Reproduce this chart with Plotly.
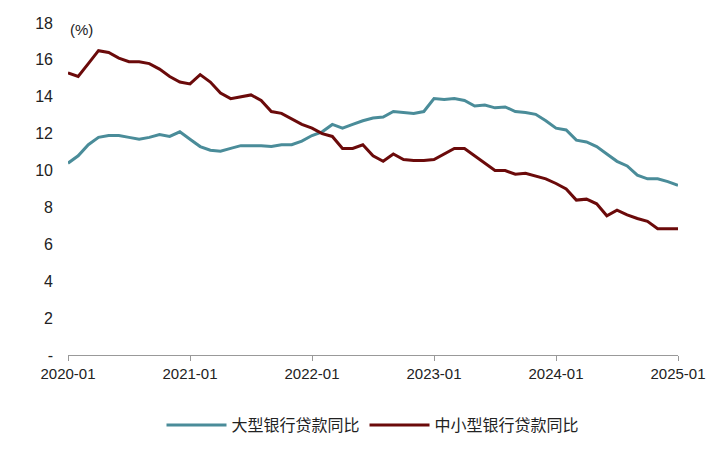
import plotly.graph_objects as go

large = [10.4, 10.8, 11.4, 11.8, 11.9, 11.9, 11.8, 11.7, 11.8, 11.95, 11.85, 12.1,
         11.7, 11.3, 11.1, 11.05, 11.2, 11.35, 11.35, 11.35, 11.3, 11.4, 11.4, 11.6,
         11.9, 12.1, 12.5, 12.3, 12.5, 12.7, 12.85, 12.9, 13.2, 13.15, 13.1, 13.2,
         13.9, 13.85, 13.9, 13.8, 13.5, 13.55, 13.4, 13.45, 13.2, 13.15, 13.05, 12.7,
         12.3, 12.2, 11.65, 11.55, 11.3, 10.9, 10.5, 10.25, 9.75, 9.55, 9.55, 9.4,
         9.2]
small = [15.3, 15.1, 15.8, 16.5, 16.4, 16.1, 15.9, 15.9, 15.8, 15.5, 15.1, 14.8,
         14.7, 15.2, 14.8, 14.2, 13.9, 14.0, 14.1, 13.8, 13.2, 13.1, 12.8, 12.5,
         12.3, 12.0, 11.85, 11.2, 11.2, 11.4, 10.8, 10.5, 10.9, 10.6, 10.55, 10.55,
         10.6, 10.9, 11.2, 11.2, 10.8, 10.4, 10.0, 10.0, 9.8, 9.85, 9.7, 9.55,
         9.3, 9.0, 8.4, 8.45, 8.2, 7.55, 7.85, 7.6, 7.4, 7.25, 6.85, 6.85,
         6.85]
x_labels = ["2020-01", "2021-01", "2022-01", "2023-01", "2024-01", "2025-01"]
y_ticks = [0, 2, 4, 6, 8, 10, 12, 14, 16, 18]
y_labels = ["-"] + [str(v) for v in y_ticks[1:]]

x = list(range(len(large)))
fig = go.Figure()
fig.add_trace(go.Scatter(x=x, y=large, mode="lines", name="大型银行贷款同比",
                         line=dict(color="#4A8C99", width=3)))
fig.add_trace(go.Scatter(x=x, y=small, mode="lines", name="中小型银行贷款同比",
                         line=dict(color="#6B0A0A", width=3)))
fig.update_layout(
    width=721, height=455, plot_bgcolor="white", paper_bgcolor="white",
    margin=dict(l=60, r=51, t=15, b=108, autoexpand=False),
    font=dict(family="Liberation Sans, Noto Sans CJK SC", size=15, color="#222"),
    legend=dict(orientation="h", x=0.5, xanchor="center", y=-0.16, yanchor="top",
                font=dict(size=16), itemwidth=60, tracegroupgap=0),
    showlegend=True,
)
fig.update_xaxes(range=[0, 60], tickvals=[0, 12, 24, 36, 48, 60], ticktext=x_labels,
                 showgrid=False, showline=True, linecolor="#999", ticks="outside",
                 tickcolor="#999", ticklen=5, zeroline=False, automargin=False,
                 tickfont=dict(size=15))
fig.update_yaxes(range=[0, 18], tickvals=y_ticks, ticktext=y_labels, showgrid=False,
                 zeroline=False, showline=False, ticks="", automargin=False,
                 ticklabelstandoff=14, tickfont=dict(size=16))
fig.add_annotation(text="(%)", x=0, y=18, xref="paper", yref="y", xanchor="left",
                   yanchor="middle", showarrow=False, font=dict(size=15), yshift=-6)
fig.write_html("out.html")
